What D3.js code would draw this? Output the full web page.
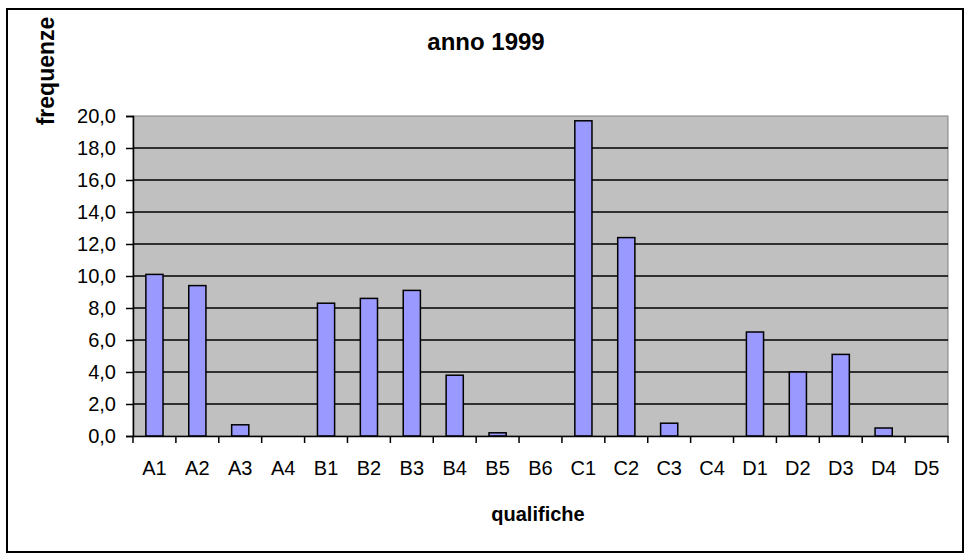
<!DOCTYPE html>
<html>
<head>
<meta charset="utf-8">
<script src="https://cdn.jsdelivr.net/npm/d3@7"></script>
<style>
  html, body { margin: 0; padding: 0; background: #fff; }
  svg { display: block; font-family: Arial, "Liberation Sans", sans-serif; }
</style>
</head>
<body>
<svg id="chart" width="966" height="554"></svg>
<script>
// Frequenze per qualifica, anno 1999
const categories = ["A1","A2","A3","A4","B1","B2","B3","B4","B5","B6",
                    "C1","C2","C3","C4","D1","D2","D3","D4","D5"];
const values = [10.1, 9.4, 0.7, 0, 8.3, 8.6, 9.1, 3.8, 0.2, 0,
                19.7, 12.4, 0.8, 0, 6.5, 4.0, 5.1, 0.5, 0];
const yTicks = [0, 2, 4, 6, 8, 10, 12, 14, 16, 18, 20];
const titleText = "anno 1999";
const xTitle = "qualifiche";
const yTitle = "frequenze";

const svg = d3.select("#chart");
const plot = { left: 133, top: 116, right: 948, bottom: 436 };
const FONT = "Arial, 'Liberation Sans', sans-serif";

// outer frame
svg.append("rect")
  .attr("x", 7).attr("y", 9).attr("width", 956).attr("height", 543)
  .attr("fill", "#fff").attr("stroke", "#000").attr("stroke-width", 2);

const x = d3.scaleBand().domain(categories).range([plot.left, plot.right]).padding(0);
const y = d3.scaleLinear().domain([0, 20]).range([plot.bottom, plot.top]);

// plot background
svg.append("rect")
  .attr("x", plot.left).attr("y", plot.top)
  .attr("width", plot.right - plot.left).attr("height", plot.bottom - plot.top)
  .attr("fill", "#C0C0C0").attr("stroke", "#808080").attr("stroke-width", 1);

// horizontal gridlines
svg.append("g").selectAll("line")
  .data(yTicks.filter(d => d > 0 && d < 20))
  .join("line")
  .attr("x1", plot.left).attr("x2", plot.right)
  .attr("y1", d => y(d)).attr("y2", d => y(d))
  .attr("stroke", "#000").attr("stroke-width", 1.5);

// bars
const barW = x.bandwidth() * 0.4;
svg.append("g").selectAll("rect")
  .data(categories.map((c, i) => ({ c, v: values[i] })).filter(d => d.v > 0))
  .join("rect")
  .attr("x", d => x(d.c) + (x.bandwidth() - barW) / 2)
  .attr("y", d => y(d.v))
  .attr("width", barW)
  .attr("height", d => y(0) - y(d.v))
  .attr("fill", "#9999FF")
  .attr("stroke", "#000")
  .attr("stroke-width", 1.5);

// y axis
const yAxis = svg.append("g")
  .attr("transform", `translate(${plot.left},0)`)
  .call(d3.axisLeft(y).tickValues(yTicks).tickSize(7).tickPadding(10)
        .tickFormat(d => d3.format(".1f")(d).replace(".", ",")));
yAxis.select(".domain").attr("stroke", "#000").attr("stroke-width", 1.5);
yAxis.selectAll(".tick line").attr("stroke", "#000").attr("stroke-width", 1.5);
yAxis.selectAll("text").attr("font-size", 20).attr("fill", "#000")
  .attr("font-family", FONT);

// x axis: labels centred, tick marks at category boundaries
const xAxis = svg.append("g")
  .attr("transform", `translate(0,${plot.bottom})`)
  .call(d3.axisBottom(x).tickSize(0).tickPadding(25).tickSizeOuter(0));
xAxis.select(".domain").attr("stroke", "#000").attr("stroke-width", 1.5);
xAxis.selectAll("text").attr("font-size", 20).attr("fill", "#000")
  .attr("font-family", FONT);

const bounds = categories.map(c => x(c)).concat([x.range()[1]]);
svg.append("g").selectAll("line")
  .data(bounds)
  .join("line")
  .attr("x1", d => d).attr("x2", d => d)
  .attr("y1", plot.bottom).attr("y2", plot.bottom + 7)
  .attr("stroke", "#000").attr("stroke-width", 1.5);

// titles
svg.append("text")
  .attr("x", 486).attr("y", 50)
  .attr("text-anchor", "middle")
  .attr("font-size", 24).attr("font-weight", "bold")
  .text(titleText);

svg.append("text")
  .attr("x", 538).attr("y", 521)
  .attr("text-anchor", "middle")
  .attr("font-size", 20).attr("font-weight", "bold")
  .text(xTitle);

svg.append("text")
  .attr("transform", "translate(54,71) rotate(-90)")
  .attr("text-anchor", "middle")
  .attr("font-size", 23).attr("font-weight", "bold")
  .text(yTitle);
</script>
</body>
</html>
